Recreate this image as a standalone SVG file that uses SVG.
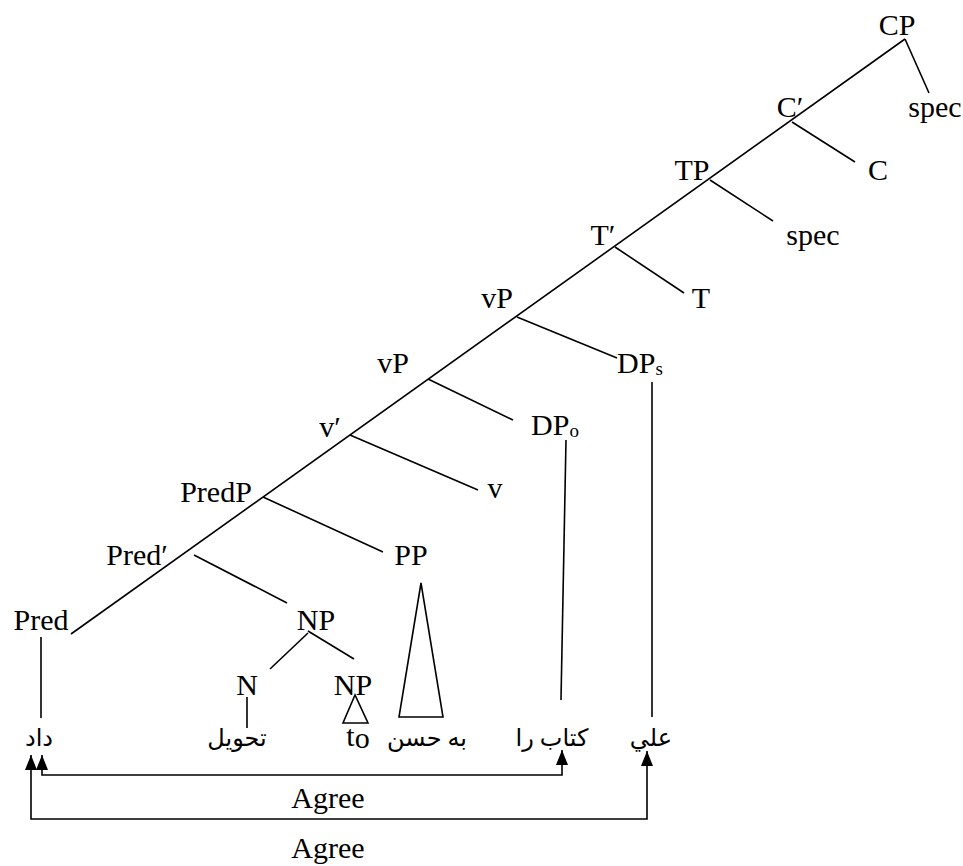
<svg xmlns="http://www.w3.org/2000/svg" width="963" height="866" viewBox="0 0 963 866">
<style>
.l{fill:#000;font-family:"Liberation Serif","Times New Roman",serif;font-size:30px;text-anchor:middle}
.f{fill:#000;font-family:"Liberation Serif","DejaVu Sans","Noto Sans",serif;font-size:24px;text-anchor:middle}
.e{stroke:#000;stroke-width:1.6;fill:none}
.a{stroke:#000;stroke-width:1.6;fill:none;marker-start:url(#ah);marker-end:url(#ah)}
</style>
<defs>
<marker id="ah" markerUnits="userSpaceOnUse" markerWidth="16" markerHeight="12" refX="15" refY="6" orient="auto-start-reverse" viewBox="0 0 16 12">
<path d="M0,0 L15,6 L0,12 z" fill="#000"/>
</marker>
</defs>
<rect width="963" height="866" fill="#fff"/>
<g id="connectors">
<path class="e" d="M905,39 L71,634"/>
<path class="e" d="M905,39 L929,93"/>
<path class="e" d="M792,122 L855,162"/>
<path class="e" d="M710,180 L773,221"/>
<path class="e" d="M615,247 L684,293"/>
<path class="e" d="M517,317 L617,358"/>
<path class="e" d="M428,379 L513,420"/>
<path class="e" d="M350,435 L478,490"/>
<path class="e" d="M263,497 L383,552"/>
<path class="e" d="M194,555 L287,603"/>
<path class="e" d="M308,633 L270,669"/>
<path class="e" d="M308,631 L354,659"/>
<path class="e" d="M247,697 L247,728"/>
<path class="e" d="M41,637 L41,718"/>
<path class="e" d="M566,440 L561,700"/>
<path class="e" d="M652,382 L652,717"/>
<path class="e" d="M355,695 L343,723 L368,723 Z"/>
<path class="e" d="M421,583 L399,717 L443,717 Z"/>
<path class="a" d="M42,755 V775 H562 V750"/>
<path class="a" d="M31,755 V819 H647 V751"/>
</g>
<g id="CP"><text class="l" x="897" y="35">CP</text></g>
<g id="spec1"><text class="l" x="935" y="117">spec</text></g>
<g id="Cbar"><text class="l" x="790" y="117">C′</text></g>
<g id="C"><text class="l" x="878" y="180">C</text></g>
<g id="TP"><text class="l" x="692" y="180">TP</text></g>
<g id="spec2"><text class="l" x="813" y="245">spec</text></g>
<g id="Tbar"><text class="l" x="603" y="245">T′</text></g>
<g id="T"><text class="l" x="701" y="308">T</text></g>
<g id="vP1"><text class="l" x="497" y="308">vP</text></g>
<g id="DPs"><text class="l" x="640" y="373">DP<tspan font-size="19" dy="2">s</tspan></text></g>
<g id="vP2"><text class="l" x="393" y="373">vP</text></g>
<g id="DPo"><text class="l" x="555" y="435">DP<tspan font-size="19" dy="2">o</tspan></text></g>
<g id="vbar"><text class="l" x="330" y="437">v′</text></g>
<g id="v"><text class="l" x="495" y="498">v</text></g>
<g id="PredP"><text class="l" x="216" y="502">PredP</text></g>
<g id="PP"><text class="l" x="411" y="565">PP</text></g>
<g id="Predbar"><text class="l" x="137" y="565">Pred′</text></g>
<g id="Pred"><text class="l" x="41" y="630">Pred</text></g>
<g id="NP1"><text class="l" x="316" y="630">NP</text></g>
<g id="N"><text class="l" x="247" y="695">N</text></g>
<g id="NP2"><text class="l" x="353" y="695">NP</text></g>
<g id="w1"><text class="f" x="39" y="746">داد</text></g>
<g id="w2"><text class="f" x="237" y="746">تحويل</text></g>
<g id="w3"><text class="l" x="358" y="746" font-size="26">t<tspan dy="2">o</tspan></text></g>
<g id="w4"><text class="f" x="427" y="746">به حسن</text></g>
<g id="w5"><text class="f" x="552" y="746">کتاب را</text></g>
<g id="w6"><text class="f" x="651" y="746">علي</text></g>
<g id="agree1"><text class="l" x="328" y="808">Agree</text></g>
<g id="agree2"><text class="l" x="328" y="858">Agree</text></g>
</svg>
